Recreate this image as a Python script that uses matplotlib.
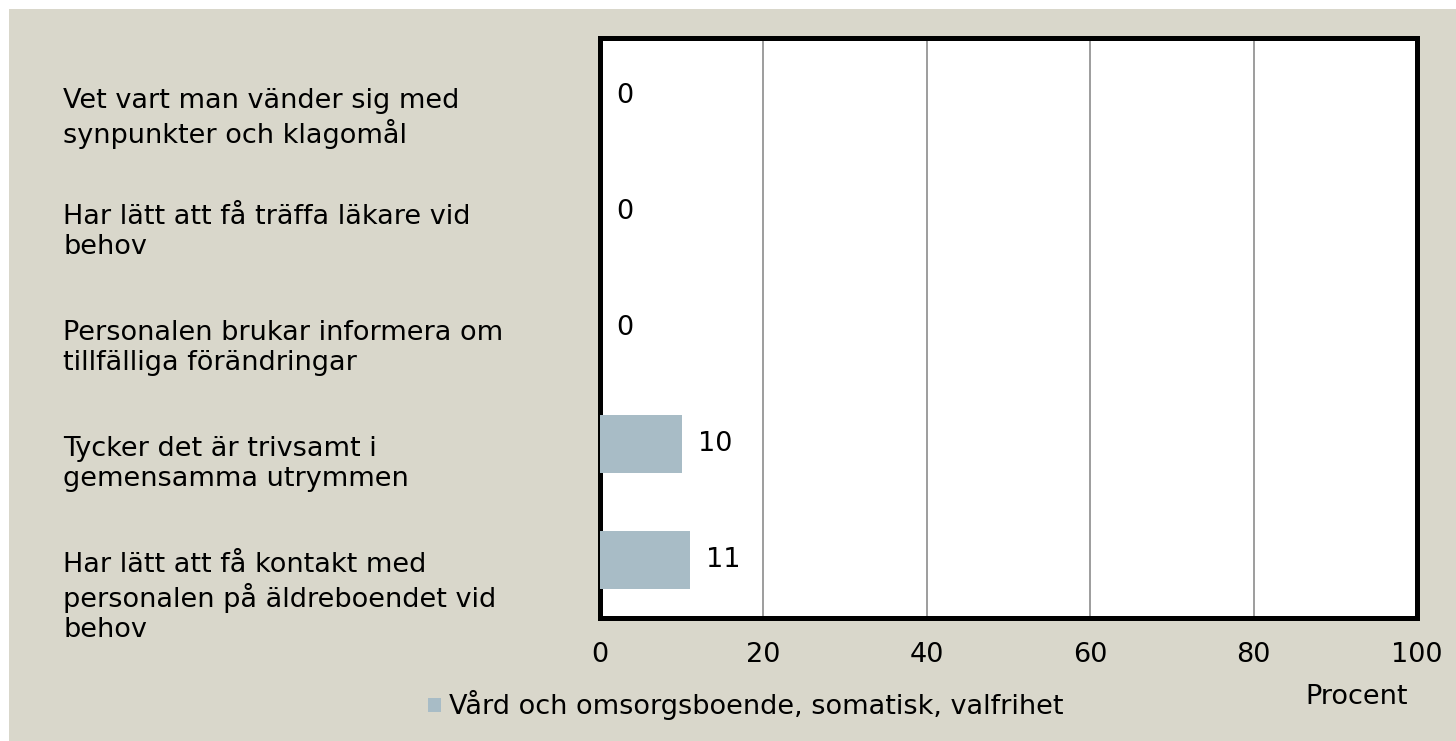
import matplotlib.pyplot as plt
from matplotlib.patches import Rectangle

# data
categories = [
    "Vet vart man vänder sig med\nsynpunkter och klagomål",
    "Har lätt att få träffa läkare vid\nbehov",
    "Personalen brukar informera om\ntillfälliga förändringar",
    "Tycker det är trivsamt i\ngemensamma utrymmen",
    "Har lätt att få kontakt med\npersonalen på äldreboendet vid\nbehov",
]
values = [0, 0, 0, 10, 11]
series_name = "Vård och omsorgsboende, somatisk, valfrihet"
xticks = [0, 20, 40, 60, 80, 100]

bg = "#d9d7cb"
bar_col = "#a8bcc6"
fs = 19.5
plt.rcParams['font.family'] = ['DejaVu Sans']

fig = plt.figure(figsize=(14.56, 7.41), dpi=100)
fig.patch.set_facecolor("white")
# beige panel with thin white margin at top/left
fig.patches.append(Rectangle((9 / 1456, 0), 1, 1 - 9 / 741, transform=fig.transFigure,
                             facecolor=bg, edgecolor="none", zorder=-5))

ax = fig.add_axes([600 / 1456, 1 - 618 / 741, 817 / 1456, 580 / 741])
ax.set_facecolor("white")
ypos = list(range(len(categories)))
ax.barh(ypos, values, height=0.5, color=bar_col, zorder=3)
for y, v in zip(ypos, values):
    ax.text(v + 2.0, y, str(v), va="center", ha="left", fontsize=fs, zorder=4)

ax.set_xlim(0, 100)
ax.set_ylim(len(categories) - 0.5, -0.5)
ax.set_xticks(xticks)
ax.set_xticklabels([str(t) for t in xticks], fontsize=fs)
ax.tick_params(axis="x", length=0, pad=17)
ax.set_yticks([])
for t in xticks[1:-1]:
    ax.axvline(t, color="#8c8c8c", lw=1.2, zorder=1)
for s in ax.spines.values():
    s.set_linewidth(3.6)
    s.set_color("black")

for y, c in zip(ypos, categories):
    ax.text(-0.657, y - 0.07, c, transform=ax.get_yaxis_transform(), ha="left", va="top",
            fontsize=fs, linespacing=1.2)

# legend
fig.patches.append(Rectangle((428 / 1456, 1 - 712 / 741), 13 / 1456, 14 / 741,
                             transform=fig.transFigure, facecolor=bar_col, edgecolor="none"))
fig.text(449 / 1456, 1 - 705 / 741, series_name, fontsize=fs, va="center", ha="left")
fig.text(1357 / 1456, 1 - 697 / 741, "Procent", fontsize=fs, va="center", ha="center")

fig.savefig("out.png", dpi=100, facecolor=fig.get_facecolor())
